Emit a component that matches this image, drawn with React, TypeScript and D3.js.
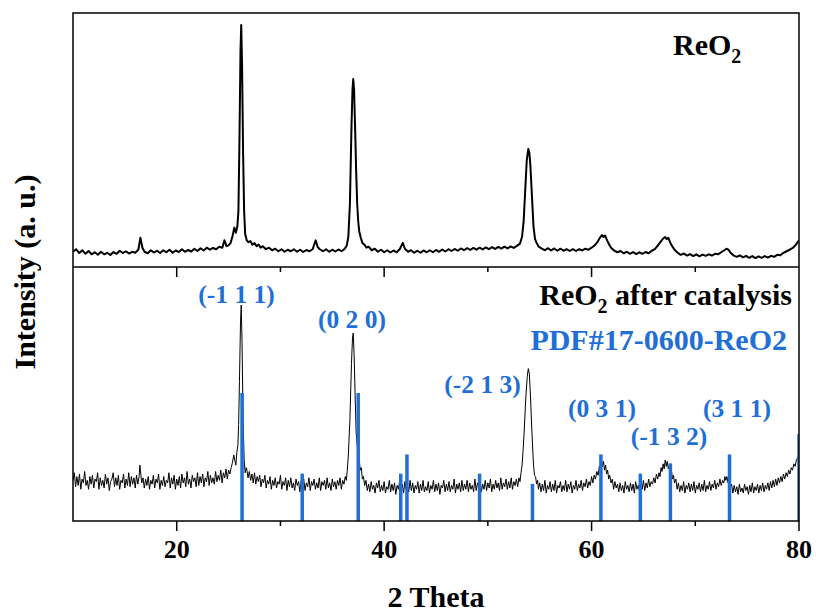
import React from 'react'
import * as d3 from 'd3'

// ReO2 as prepared: [2theta, intensity (a.u., 0-100 of top panel)]
const freshPattern: [number, number][] = [
  [10.0, 6.0], [10.3, 7.0], [10.6, 5.5], [10.9, 6.6], [11.2, 5.2], [11.5, 6.3], [11.8, 5.0], [12.1, 5.8],
  [12.4, 4.8], [12.7, 6.0], [13.0, 5.0], [13.3, 5.6], [13.6, 4.7], [13.9, 5.9], [14.2, 5.2], [14.5, 6.4],
  [14.8, 5.5], [15.1, 6.2], [15.4, 5.3], [15.7, 6.0], [16.0, 5.6], [16.3, 6.8], [16.5, 11.5], [16.7, 7.5],
  [16.9, 6.0], [17.2, 5.4], [17.5, 6.6], [17.8, 5.7], [18.1, 6.4], [18.4, 5.5], [18.7, 6.6], [19.0, 5.8],
  [19.3, 6.8], [19.6, 5.6], [19.9, 6.5], [20.2, 5.9], [20.5, 7.0], [20.8, 6.0], [21.1, 6.7], [21.4, 6.1],
  [21.7, 7.2], [22.0, 6.3], [22.3, 7.4], [22.6, 6.5], [22.9, 7.6], [23.2, 6.8], [23.5, 7.5], [23.8, 7.0],
  [24.1, 8.0], [24.4, 7.6], [24.6, 10.5], [24.8, 8.2], [25.0, 8.5], [25.2, 9.5], [25.4, 12.5], [25.55, 15.5],
  [25.7, 13.5], [25.85, 16.0], [25.95, 22], [26.05, 50], [26.15, 85], [26.22, 95.3], [26.3, 80], [26.4, 45],
  [26.5, 22], [26.6, 13], [26.75, 10.5], [26.9, 9.8], [27.1, 10.2], [27.3, 8.8], [27.5, 9.4], [27.7, 8.2],
  [27.9, 8.8], [28.1, 7.6], [28.3, 8.2], [28.6, 7.0], [28.9, 7.6], [29.2, 6.6], [29.5, 7.2], [29.8, 6.2],
  [30.1, 7.0], [30.4, 6.0], [30.7, 6.8], [31.0, 6.2], [31.3, 7.0], [31.6, 6.0], [31.9, 6.8], [32.2, 5.9],
  [32.5, 6.7], [32.8, 6.2], [33.1, 7.0], [33.4, 10.5], [33.6, 7.8], [33.8, 7.0], [34.1, 6.2], [34.4, 7.0],
  [34.7, 6.0], [35.0, 6.8], [35.3, 6.1], [35.6, 6.9], [35.9, 6.2], [36.2, 7.2], [36.4, 8.5], [36.55, 12],
  [36.7, 25], [36.85, 55], [36.95, 70], [37.02, 74], [37.1, 70], [37.2, 55], [37.3, 38], [37.4, 25],
  [37.5, 18], [37.6, 14], [37.75, 11.5], [37.9, 9.5], [38.1, 8.8], [38.3, 7.6], [38.5, 8.0], [38.8, 6.6],
  [39.1, 7.2], [39.4, 6.0], [39.7, 6.8], [40.0, 5.8], [40.3, 6.6], [40.6, 5.7], [40.9, 6.5], [41.2, 5.8],
  [41.5, 7.0], [41.8, 9.5], [42.0, 7.2], [42.3, 6.0], [42.6, 6.6], [42.9, 5.6], [43.2, 6.4], [43.5, 5.6],
  [43.8, 6.5], [44.1, 5.8], [44.4, 6.6], [44.7, 5.8], [45.0, 6.7], [45.3, 6.0], [45.6, 6.9], [45.9, 6.1],
  [46.2, 7.0], [46.5, 6.3], [46.8, 7.1], [47.1, 6.4], [47.4, 7.3], [47.7, 6.6], [48.0, 7.4], [48.3, 6.7],
  [48.6, 7.5], [48.9, 6.8], [49.2, 7.6], [49.5, 6.9], [49.8, 7.7], [50.1, 7.0], [50.4, 7.8], [50.7, 7.1],
  [51.0, 7.9], [51.3, 7.2], [51.6, 8.0], [51.9, 7.3], [52.2, 8.1], [52.5, 7.5], [52.8, 8.3], [53.1, 9.2],
  [53.3, 12], [53.45, 18], [53.6, 30], [53.75, 42], [53.9, 46.5], [54.0, 45], [54.1, 40], [54.25, 28],
  [54.4, 16], [54.55, 11], [54.7, 9.5], [54.9, 8.0], [55.2, 7.2], [55.5, 6.6], [55.8, 7.4], [56.1, 6.5],
  [56.4, 7.3], [56.7, 6.4], [57.0, 7.2], [57.3, 6.4], [57.6, 7.0], [57.9, 6.3], [58.2, 7.0], [58.5, 6.3],
  [58.8, 7.0], [59.1, 6.5], [59.4, 7.2], [59.7, 6.8], [60.0, 7.6], [60.3, 8.5], [60.6, 10.0], [60.8, 11.5],
  [61.0, 12.6], [61.15, 11.8], [61.3, 12.4], [61.5, 10.5], [61.7, 8.8], [61.9, 7.5], [62.2, 6.4], [62.5, 5.8],
  [62.8, 6.3], [63.1, 5.4], [63.4, 6.0], [63.7, 5.2], [64.0, 5.9], [64.3, 5.1], [64.6, 5.8], [64.9, 5.2],
  [65.2, 5.9], [65.5, 5.4], [65.8, 6.4], [66.1, 7.0], [66.4, 8.5], [66.7, 10.2], [66.9, 11.2], [67.1, 11.8],
  [67.25, 11.0], [67.4, 11.5], [67.6, 9.5], [67.8, 8.0], [68.0, 6.8], [68.3, 5.6], [68.6, 4.8], [68.9, 5.3],
  [69.2, 4.5], [69.5, 5.1], [69.8, 4.3], [70.1, 5.0], [70.4, 4.2], [70.7, 4.9], [71.0, 4.4], [71.3, 5.0],
  [71.6, 4.5], [71.9, 5.2], [72.2, 5.0], [72.5, 5.8], [72.8, 6.6], [73.0, 7.2], [73.2, 6.8], [73.4, 5.6],
  [73.7, 4.5], [74.0, 4.0], [74.3, 4.6], [74.6, 3.8], [74.9, 4.4], [75.2, 3.6], [75.5, 4.3], [75.8, 3.5],
  [76.1, 4.2], [76.4, 3.6], [76.7, 4.3], [77.0, 3.7], [77.3, 4.4], [77.6, 4.0], [77.9, 4.8], [78.2, 4.6],
  [78.5, 5.6], [78.8, 6.2], [79.1, 6.8], [79.4, 7.5], [79.7, 8.8], [80.0, 10.5],
]

// ReO2 after catalysis: [2theta, intensity (a.u., 0-100 of bottom panel)]
const spentPattern: [number, number][] = [
  [10.0, 16], [10.125, 19], [10.25, 13.5], [10.375, 17.5], [10.5, 14], [10.625, 18.5], [10.75, 12.5], [10.875, 16.5],
  [11.0, 15], [11.125, 19.5], [11.25, 14], [11.375, 16], [11.5, 12.5], [11.625, 17.5], [11.75, 14.5], [11.875, 18],
  [12.0, 13], [12.125, 16.5], [12.25, 15.5], [12.375, 19], [12.5, 12.5], [12.625, 17], [12.75, 14], [12.875, 16],
  [13.0, 13], [13.125, 18.5], [13.25, 14.5], [13.375, 17], [13.5, 12], [13.625, 15.5], [13.75, 16.5], [13.875, 19],
  [14.0, 13.5], [14.125, 17], [14.25, 14], [14.375, 18], [14.5, 12.5], [14.625, 16], [14.75, 15], [14.875, 18.5],
  [15.0, 13], [15.125, 16.5], [15.25, 14], [15.375, 19], [15.5, 13.5], [15.625, 17.5], [15.75, 14.5], [15.875, 17],
  [16.0, 13], [16.125, 18], [16.25, 14.5], [16.375, 17.5], [16.45, 22], [16.55, 18], [16.625, 15], [16.75, 17],
  [16.875, 13], [17.0, 16.5], [17.125, 14], [17.25, 17.5], [17.375, 12.5], [17.5, 16], [17.625, 14.5], [17.75, 18],
  [17.875, 13], [18.0, 16.5], [18.125, 15], [18.25, 18.5], [18.375, 12.5], [18.5, 16], [18.625, 14], [18.75, 17.5],
  [18.875, 13.5], [19.0, 16], [19.125, 15], [19.25, 19], [19.375, 13], [19.5, 17], [19.625, 14.5], [19.75, 18],
  [19.875, 12.5], [20.0, 16.5], [20.125, 14], [20.25, 17.5], [20.375, 13], [20.5, 18.5], [20.625, 15], [20.75, 17],
  [20.875, 13.5], [21.0, 19.5], [21.125, 14.5], [21.25, 16.5], [21.375, 13], [21.5, 18], [21.625, 15.5], [21.75, 17],
  [21.875, 13.5], [22.0, 19], [22.125, 14], [22.25, 17.5], [22.375, 15], [22.5, 18.5], [22.625, 13.5], [22.75, 17],
  [22.875, 15.5], [23.0, 19.5], [23.125, 14], [23.25, 18], [23.375, 15], [23.5, 17], [23.625, 14.5], [23.75, 19.5],
  [23.875, 15.5], [24.0, 18], [24.125, 16], [24.25, 20], [24.375, 15], [24.5, 19], [24.625, 17], [24.75, 20.5],
  [24.875, 16.5], [25.0, 20], [25.125, 18.5], [25.25, 21], [25.375, 23], [25.5, 26], [25.6, 24], [25.7, 22],
  [25.8, 27], [25.9, 30], [25.97, 38], [26.05, 55], [26.15, 78], [26.22, 85], [26.3, 70], [26.4, 40],
  [26.5, 24], [26.6, 19], [26.7, 21],
  [26.75, 20.5], [26.875, 17], [27.0, 19.5], [27.125, 16], [27.25, 18.5], [27.375, 15], [27.5, 19], [27.625, 14.5],
  [27.75, 17.5], [27.875, 15.5], [28.0, 18], [28.125, 13.5], [28.25, 16.5], [28.375, 15], [28.5, 18], [28.625, 13],
  [28.75, 16], [28.875, 14.5], [29.0, 17.5], [29.125, 12.5], [29.25, 16], [29.375, 14], [29.5, 17], [29.625, 13],
  [29.75, 15.5], [29.875, 14.5], [30.0, 18], [30.125, 12.5], [30.25, 15.5], [30.375, 14], [30.5, 17], [30.625, 12],
  [30.75, 16], [30.875, 13.5], [31.0, 17], [31.125, 13], [31.25, 15], [31.375, 12], [31.5, 16.5], [31.625, 14],
  [31.75, 15.5], [31.875, 11.5], [32.0, 16], [32.125, 13.5], [32.25, 16.5], [32.375, 12], [32.5, 15], [32.625, 13.5],
  [32.75, 17], [32.875, 12], [33.0, 15.5], [33.125, 14], [33.25, 16.5], [33.375, 12.5], [33.5, 15], [33.625, 13],
  [33.75, 17], [33.875, 12], [34.0, 15.5], [34.125, 14], [34.25, 16], [34.375, 12.5], [34.5, 17], [34.625, 13],
  [34.75, 15], [34.875, 12], [35.0, 16.5], [35.125, 13.5], [35.25, 15.5], [35.375, 12.5], [35.5, 16], [35.625, 14],
  [35.75, 17], [35.875, 12.5], [36.0, 16], [36.125, 14.5], [36.25, 17.5], [36.35, 16], [36.45, 20], [36.55, 26],
  [36.7, 40], [36.85, 62], [36.95, 72], [37.02, 74], [37.1, 66], [37.2, 50], [37.3, 35], [37.4, 30],
  [37.5, 26], [37.6, 24], [37.7, 20], [37.8, 21], [37.9, 16.5], [38.0, 17.5],
  [38.125, 14], [38.25, 16], [38.375, 12], [38.5, 14.5], [38.625, 11.5], [38.75, 15.5], [38.875, 12.5], [39.0, 14],
  [39.125, 11], [39.25, 15], [39.375, 13], [39.5, 16], [39.625, 11.5], [39.75, 14], [39.875, 12], [40.0, 15.5],
  [40.125, 11], [40.25, 13.5], [40.375, 12.5], [40.5, 16], [40.625, 11.5], [40.75, 14.5], [40.875, 12], [41.0, 15],
  [41.125, 10.5], [41.25, 14], [41.375, 12.5], [41.5, 16], [41.625, 12], [41.75, 14.5], [41.875, 11], [42.0, 15.5],
  [42.125, 12.5], [42.25, 14], [42.375, 11.5], [42.5, 16], [42.625, 12], [42.75, 15], [42.875, 11], [43.0, 14],
  [43.125, 12.5], [43.25, 15.5], [43.375, 11], [43.5, 14.5], [43.625, 12], [43.75, 16], [43.875, 11.5], [44.0, 13.5],
  [44.125, 12], [44.25, 15.5], [44.375, 11], [44.5, 14], [44.625, 12.5], [44.75, 16], [44.875, 11.5], [45.0, 14.5],
  [45.125, 12], [45.25, 15], [45.375, 10.5], [45.5, 14], [45.625, 13], [45.75, 16], [45.875, 11.5], [46.0, 14.5],
  [46.125, 12], [46.25, 15.5], [46.375, 11.5], [46.5, 14], [46.625, 12.5], [46.75, 16.5], [46.875, 11], [47.0, 14.5],
  [47.125, 12.5], [47.25, 15], [47.375, 11.5], [47.5, 16], [47.625, 12], [47.75, 14.5], [47.875, 12.5], [48.0, 16],
  [48.125, 11.5], [48.25, 15], [48.375, 12.5], [48.5, 14], [48.625, 11.5], [48.75, 16.5], [48.875, 12], [49.0, 15],
  [49.125, 13], [49.25, 16], [49.375, 11.5], [49.5, 14.5], [49.625, 12.5], [49.75, 16], [49.875, 12], [50.0, 15],
  [50.125, 13], [50.25, 16.5], [50.375, 11.5], [50.5, 14.5], [50.625, 12.5], [50.75, 16], [50.875, 13], [51.0, 15],
  [51.125, 12], [51.25, 17], [51.375, 12.5], [51.5, 15], [51.625, 13.5], [51.75, 16.5], [51.875, 12.5], [52.0, 15.5],
  [52.125, 13], [52.25, 17], [52.375, 12.5], [52.5, 15.5], [52.625, 14], [52.75, 16.5], [52.875, 13.5], [53.0, 17],
  [53.1, 15.5], [53.2, 19], [53.3, 22], [53.4, 28], [53.5, 35], [53.65, 48], [53.8, 57], [53.9, 60],
  [54.0, 58], [54.1, 50], [54.25, 35], [54.4, 22], [54.5, 18], [54.6, 17.5], [54.7, 14.5], [54.8, 16],
  [54.875, 12.5], [55.0, 15], [55.125, 11.5], [55.25, 14.5], [55.375, 12], [55.5, 16], [55.625, 11], [55.75, 14],
  [55.875, 12.5], [56.0, 15.5], [56.125, 11.5], [56.25, 14.5], [56.375, 12], [56.5, 16], [56.625, 11], [56.75, 14],
  [56.875, 13], [57.0, 15.5], [57.125, 11.5], [57.25, 14], [57.375, 12], [57.5, 16], [57.625, 11.5], [57.75, 14.5],
  [57.875, 12.5], [58.0, 15.5], [58.125, 11], [58.25, 14], [58.375, 12.5], [58.5, 16], [58.625, 12], [58.75, 14.5],
  [58.875, 13], [59.0, 16], [59.125, 12], [59.25, 15], [59.375, 13.5], [59.5, 16.5], [59.625, 13], [59.75, 15.5],
  [59.875, 14], [60.0, 17.5], [60.125, 15], [60.25, 18],
  [60.375, 16.5], [60.5, 19.5], [60.625, 18], [60.75, 21.5], [60.85, 20], [60.95, 24], [61.05, 21.5], [61.15, 23.5],
  [61.25, 20], [61.35, 22], [61.45, 18.5], [61.55, 20], [61.65, 16.5], [61.75, 18], [61.875, 15], [62.0, 16.5],
  [62.125, 12.5], [62.25, 15.5], [62.375, 13], [62.5, 14.5], [62.625, 11.5], [62.75, 15], [62.875, 12], [63.0, 14],
  [63.125, 11], [63.25, 15.5], [63.375, 12.5], [63.5, 14], [63.625, 11.5], [63.75, 15], [63.875, 12], [64.0, 14.5],
  [64.125, 11], [64.25, 15.5], [64.375, 12.5], [64.5, 14], [64.625, 11.5], [64.75, 15], [64.875, 12.5], [65.0, 16],
  [65.125, 12], [65.25, 15], [65.375, 13], [65.5, 16.5], [65.625, 13.5], [65.75, 15.5],
  [65.875, 14.5], [66.0, 17], [66.125, 15], [66.25, 18.5], [66.375, 16.5], [66.5, 19], [66.6, 17.5], [66.7, 21],
  [66.8, 19.5], [66.9, 22.5], [67.0, 20.5], [67.1, 24], [67.2, 21.5], [67.3, 23.5], [67.4, 20.5], [67.5, 22],
  [67.6, 18.5], [67.7, 20], [67.8, 16.5], [67.9, 18], [68.0, 15], [68.125, 16.5],
  [68.25, 12.5], [68.375, 15], [68.5, 11.5], [68.625, 14], [68.75, 12], [68.875, 15.5], [69.0, 11], [69.125, 14],
  [69.25, 12.5], [69.375, 15], [69.5, 11.5], [69.625, 14.5], [69.75, 12], [69.875, 15.5], [70.0, 11], [70.125, 14],
  [70.25, 12.5], [70.375, 15], [70.5, 11.5], [70.625, 14.5], [70.75, 12], [70.875, 16], [71.0, 11.5], [71.125, 14],
  [71.25, 12.5], [71.375, 15.5], [71.5, 12], [71.625, 14.5], [71.75, 13], [71.875, 16], [72.0, 12.5], [72.125, 15],
  [72.25, 13.5], [72.375, 16.5], [72.5, 14],
  [72.625, 16], [72.75, 15], [72.85, 17.5], [72.95, 16], [73.05, 17.5], [73.15, 15], [73.25, 16], [73.375, 13.5],
  [73.5, 14.5],
  [73.625, 11], [73.75, 14], [73.875, 11.5], [74.0, 13.5], [74.125, 10.5], [74.25, 14.5], [74.375, 11.5], [74.5, 13],
  [74.625, 11], [74.75, 14.5], [74.875, 12], [75.0, 13.5], [75.125, 10.5], [75.25, 14], [75.375, 11.5], [75.5, 15],
  [75.625, 11], [75.75, 13.5], [75.875, 12], [76.0, 14.5], [76.125, 11], [76.25, 14], [76.375, 12], [76.5, 15],
  [76.625, 11.5], [76.75, 14], [76.875, 12.5], [77.0, 15], [77.125, 12], [77.25, 15.5], [77.375, 13], [77.5, 16],
  [77.625, 13.5], [77.75, 16.5], [77.875, 14], [78.0, 17], [78.125, 15], [78.25, 17.5], [78.375, 15.5], [78.5, 18.5],
  [78.625, 16.5], [78.75, 19], [78.875, 17.5], [79.0, 20], [79.125, 18.5], [79.25, 21], [79.375, 20], [79.5, 22.5],
  [79.625, 21.5], [79.75, 24], [79.875, 25], [80.0, 27],
]

// PDF#17-0600 reference lines (relative intensity, %)
const pdfTheta = [26.3, 32.1, 37.5, 41.6, 42.2, 49.2, 54.3, 60.9, 64.7, 67.6, 73.3, 80.0]
const pdfIntensity = [100, 37, 100, 37, 52, 37, 29, 52, 37, 45, 52, 68]

// hkl annotations: text, centre 2theta, baseline level in bottom panel units
const hklText = ['(-1 1 1)', '(0 2 0)', '(-2 1 3)', '(0 3 1)', '(-1 3 2)', '(3 1 1)']
const hklTheta = [25.77, 36.9, 49.49, 61.0, 67.47, 74.02]
const hklLevel = [85.8, 76.0, 50.4, 40.9, 29.9, 40.9]

const xTicks = [20, 30, 40, 50, 60, 70, 80]

const BLUE = '#1f6fd6'
const FONT = '"Liberation Serif", "Times New Roman", serif'

export default function App() {
  const width = 816
  const height = 612
  const margin = { top: 13, right: 17, bottom: 91, left: 73 }
  const plotW = width - margin.left - margin.right
  const plotH = height - margin.top - margin.bottom
  const panelH = plotH / 2
  const left = margin.left
  const right = margin.left + plotW
  const top = margin.top
  const mid = margin.top + panelH
  const bottom = margin.top + plotH

  const x = d3.scaleLinear().domain([10, 80]).range([left, right])
  const yTop = d3.scaleLinear().domain([0, 100]).range([mid, top])
  const yBot = d3.scaleLinear().domain([0, 100]).range([bottom, mid])
  // stick pattern: 100 % reaches roughly half of the lower panel
  const yPdf = d3.scaleLinear().domain([0, 100]).range([bottom, bottom - 128])

  const topLine = d3.line<[number, number]>().x(d => x(d[0])).y(d => yTop(d[1]))
  const botLine = d3.line<[number, number]>().x(d => x(d[0])).y(d => yBot(d[1]))

  const isMajor = (t: number) => t % 20 === 0

  return (
    <svg width={width} height={height} style={{ position: 'absolute', left: 0, top: 0 }}
      fontFamily={FONT} fontWeight="bold">
      <defs>
        <clipPath id="plot-area">
          <rect x={left} y={top} width={plotW} height={plotH} />
        </clipPath>
      </defs>
      <rect width={width} height={height} fill="#fff" />

      <g clipPath="url(#plot-area)">
        <path d={topLine(freshPattern) || ''} fill="none" stroke="#000" strokeWidth={2} strokeLinejoin="round" />
        <path d={botLine(spentPattern) || ''} fill="none" stroke="#000" strokeWidth={1} />
        {pdfTheta.map((t, i) => (
          <line key={i} x1={x(t)} x2={x(t)} y1={bottom} y2={yPdf(pdfIntensity[i])}
            stroke={BLUE} strokeWidth={3.5} />
        ))}
      </g>

      {/* frame + divider */}
      <rect x={left} y={top} width={plotW} height={plotH} fill="none" stroke="#000" strokeWidth={1.5} />
      <line x1={left} x2={right} y1={mid} y2={mid} stroke="#000" strokeWidth={1.5} />

      {/* ticks */}
      {xTicks.filter(t => t < 80).map(t => (
        <line key={'m' + t} x1={x(t)} x2={x(t)} y1={mid} y2={mid + (isMajor(t) ? 10 : 5)}
          stroke="#000" strokeWidth={1.5} />
      ))}
      {xTicks.map(t => (
        <line key={'b' + t} x1={x(t)} x2={x(t)} y1={bottom} y2={bottom + (isMajor(t) ? 10 : 5)}
          stroke="#000" strokeWidth={1.5} />
      ))}
      {xTicks.filter(isMajor).map(t => (
        <text key={'l' + t} x={x(t)} y={558} textAnchor="middle" fontSize={26}>{t}</text>
      ))}

      {/* axis titles */}
      <text x={436} y={607} textAnchor="middle" fontSize={30}>2 Theta</text>
      <text transform="translate(35,272) rotate(-90)" textAnchor="middle" fontSize={30}>Intensity (a. u.)</text>

      {/* sample labels */}
      <text x={673} y={55} fontSize={30}>
        ReO<tspan fontSize={20} dy={8}>2</tspan>
      </text>
      <text x={792} y={305} textAnchor="end" fontSize={30}>
        ReO<tspan fontSize={20} dy={8}>2</tspan><tspan dy={-8}> after catalysis</tspan>
      </text>
      <text x={787} y={350} textAnchor="end" fontSize={30} fill={BLUE}>PDF#17-0600-ReO2</text>

      {hklText.map((s, i) => (
        <text key={s} x={x(hklTheta[i])} y={yBot(hklLevel[i])} textAnchor="middle" fontSize={25.5} fill={BLUE}>
          {s}
        </text>
      ))}
    </svg>
  )
}
